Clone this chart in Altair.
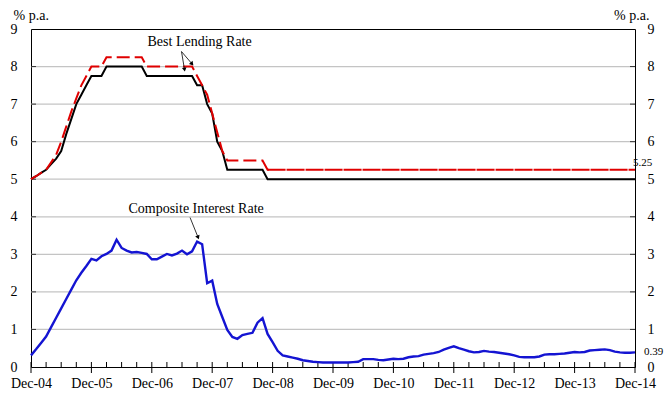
import json
import altair as alt
import pandas as pd

# ---------------- data (monthly, Dec-04 = 0 ... Dec-14 = 120) ----------------
months = list(range(121))
x_labels = ["Dec-04", "Dec-05", "Dec-06", "Dec-07", "Dec-08", "Dec-09",
            "Dec-10", "Dec-11", "Dec-12", "Dec-13", "Dec-14"]
y_ticks = [0, 1, 2, 3, 4, 5, 6, 7, 8, 9]
grid_vals = [1, 2, 3, 4, 5, 6, 7, 8]

blr_black = [
    5.00, 5.08, 5.17, 5.25, 5.40, 5.55, 5.75, 6.20, 6.60, 7.00, 7.25, 7.50,
    7.75, 7.75, 7.75, 8.00, 8.00, 8.00, 8.00, 8.00, 8.00, 8.00, 8.00, 7.75,
    7.75, 7.75, 7.75, 7.75, 7.75, 7.75, 7.75, 7.75, 7.75, 7.50, 7.50, 7.00,
    6.75, 6.00, 5.75, 5.25, 5.25, 5.25, 5.25, 5.25, 5.25, 5.25, 5.25, 5.00,
    5.00, 5.00, 5.00, 5.00, 5.00, 5.00, 5.00, 5.00, 5.00, 5.00, 5.00, 5.00,
    5.00, 5.00, 5.00, 5.00, 5.00, 5.00, 5.00, 5.00, 5.00, 5.00, 5.00, 5.00,
    5.00, 5.00, 5.00, 5.00, 5.00, 5.00, 5.00, 5.00, 5.00, 5.00, 5.00, 5.00,
    5.00, 5.00, 5.00, 5.00, 5.00, 5.00, 5.00, 5.00, 5.00, 5.00, 5.00, 5.00,
    5.00, 5.00, 5.00, 5.00, 5.00, 5.00, 5.00, 5.00, 5.00, 5.00, 5.00, 5.00,
    5.00, 5.00, 5.00, 5.00, 5.00, 5.00, 5.00, 5.00, 5.00, 5.00, 5.00, 5.00,
    5.00,
]

blr_red = [
    5.00, 5.08, 5.17, 5.25, 5.45, 5.65, 6.00, 6.40, 6.80, 7.15, 7.50, 7.75,
    8.00, 8.00, 8.00, 8.25, 8.25, 8.25, 8.25, 8.25, 8.25, 8.25, 8.25, 8.00,
    8.00, 8.00, 8.00, 8.00, 8.00, 8.00, 8.00, 8.00, 8.00, 7.75, 7.50, 7.25,
    6.75, 6.25, 5.75, 5.50, 5.50, 5.50, 5.50, 5.50, 5.50, 5.50, 5.50, 5.25,
    5.25, 5.25, 5.25, 5.25, 5.25, 5.25, 5.25, 5.25, 5.25, 5.25, 5.25, 5.25,
    5.25, 5.25, 5.25, 5.25, 5.25, 5.25, 5.25, 5.25, 5.25, 5.25, 5.25, 5.25,
    5.25, 5.25, 5.25, 5.25, 5.25, 5.25, 5.25, 5.25, 5.25, 5.25, 5.25, 5.25,
    5.25, 5.25, 5.25, 5.25, 5.25, 5.25, 5.25, 5.25, 5.25, 5.25, 5.25, 5.25,
    5.25, 5.25, 5.25, 5.25, 5.25, 5.25, 5.25, 5.25, 5.25, 5.25, 5.25, 5.25,
    5.25, 5.25, 5.25, 5.25, 5.25, 5.25, 5.25, 5.25, 5.25, 5.25, 5.25, 5.25,
    5.25,
]

composite = [
    0.31, 0.47, 0.64, 0.81, 1.06, 1.31, 1.56, 1.81, 2.06, 2.31, 2.51, 2.69,
    2.88, 2.84, 2.95, 3.01, 3.10, 3.39, 3.17, 3.10, 3.05, 3.06, 3.04, 3.01,
    2.87, 2.87, 2.94, 3.01, 2.97, 3.02, 3.10, 3.00, 3.08, 3.34, 3.27, 2.23,
    2.30, 1.68, 1.33, 0.99, 0.80, 0.75, 0.85, 0.88, 0.91, 1.18, 1.30, 0.88,
    0.66, 0.43, 0.31, 0.28, 0.25, 0.22, 0.18, 0.16, 0.14, 0.13, 0.12, 0.12,
    0.12, 0.12, 0.12, 0.12, 0.13, 0.14, 0.21, 0.21, 0.21, 0.19, 0.18, 0.20,
    0.22, 0.21, 0.22, 0.26, 0.28, 0.29, 0.33, 0.35, 0.37, 0.40, 0.46, 0.51,
    0.55, 0.50, 0.46, 0.42, 0.39, 0.40, 0.43, 0.41, 0.40, 0.38, 0.36, 0.34,
    0.31, 0.27, 0.26, 0.26, 0.26, 0.28, 0.33, 0.34, 0.34, 0.35, 0.36, 0.38,
    0.40, 0.39, 0.40, 0.44, 0.45, 0.46, 0.47, 0.45, 0.41, 0.39, 0.38, 0.38,
    0.39,
]

# annotation anchors in data units (month, % p.a.)
ann_labels = ["Best Lending Rate", "Composite Interest Rate"]
ann_m = [33.5, 32.8]
ann_v = [8.66, 4.22]
arrow_m = [29.9, 29.9, 31.6]
arrow_v = [8.40, 8.40, 3.98]
arrow_m2 = [30.5, 32.0, 33.2]
arrow_v2 = [7.92, 8.07, 3.45]
arrow_ang = [351, 320, 338]

quarter_ticks = [m for m in months if m % 3 == 0 and m % 12 != 0]
year_ticks = [m for m in months if m % 12 == 0]

# ---------------- chart ----------------
W, H = 604, 338
FONT = "Liberation Serif, Times New Roman, DejaVu Serif, serif"

df = pd.DataFrame({"m": months, "black": blr_black, "red": blr_red,
                   "comp": composite})
df_red_early = df[df["m"] <= 48]
df_red_late = df[df["m"] >= 47]

xscale = alt.Scale(domain=[0, 120], nice=False, zero=False)
yscale = alt.Scale(domain=[0, 9], nice=False, zero=True)

label_expr = json.dumps(x_labels) + "[floor(datum.value / 12)]"
x_axis = alt.Axis(values=year_ticks, labelExpr=label_expr, ticks=False,
                  domain=False, grid=False, labelFont=FONT, labelFontSize=14,
                  labelColor="black", labelPadding=9, labelOverlap=False,
                  labelFlush=False, title=None)
y_axis_left = alt.Axis(values=y_ticks, ticks=False, domain=False, grid=False,
                       labelFont=FONT, labelFontSize=14, labelColor="black",
                       labelPadding=14, labelOverlap=False, labelFlush=False,
                       title="% p.a.", titleAngle=0,
                       titleX=-18, titleY=-14, titleAlign="left",
                       titleBaseline="middle", titleFont=FONT,
                       titleFontSize=14, titleFontWeight="normal",
                       titleColor="black")
y_axis_right = alt.Axis(values=y_ticks, orient="right", ticks=False,
                        domain=False, grid=False, labelFont=FONT,
                        labelFontSize=14, labelColor="black", labelPadding=12,
                        labelOverlap=False, labelFlush=False,
                        title="% p.a.", titleAngle=0, titleX=14, titleY=-14,
                        titleAlign="right", titleBaseline="middle",
                        titleFont=FONT, titleFontSize=14,
                        titleFontWeight="normal", titleColor="black")


def X(field="m"):
    return alt.X(f"{field}:Q", scale=xscale, axis=x_axis)


def Y(field):
    return alt.Y(f"{field}:Q", scale=yscale, axis=y_axis_left)


grid = alt.Chart(pd.DataFrame({"v": grid_vals})).mark_rule(
    color="#c4c4c4", strokeWidth=1.2).encode(
    y=Y("v"), x=alt.value(0), x2=alt.value(W))

ytick_l = alt.Chart(pd.DataFrame({"v": grid_vals})).mark_rule(
    color="#333333", strokeWidth=1).encode(
    y=Y("v"), x=alt.value(0), x2=alt.value(5))
ytick_r = alt.Chart(pd.DataFrame({"v": grid_vals})).mark_rule(
    color="#333333", strokeWidth=1).encode(
    y=Y("v"), x=alt.value(W - 5), x2=alt.value(W))

qticks = alt.Chart(pd.DataFrame({"m": quarter_ticks})).mark_rule(
    color="black", strokeWidth=1).encode(
    x=X(), y=alt.value(H - 5), y2=alt.value(H))
yticks = alt.Chart(pd.DataFrame({"m": year_ticks})).mark_rule(
    color="black", strokeWidth=1).encode(
    x=X(), y=alt.value(H - 5), y2=alt.value(H + 6))

black_line = alt.Chart(df).mark_line(color="black", strokeWidth=2).encode(
    x=X(), y=Y("black"))
red_early = alt.Chart(df_red_early).mark_line(
    color="#e00000", strokeWidth=2, strokeDash=[13, 5]).encode(
    x=X(), y=Y("red"))
red_late = alt.Chart(df_red_late).mark_line(
    color="#e00000", strokeWidth=2, strokeDash=[18, 1]).encode(
    x=X(), y=Y("red"))
blue_line = alt.Chart(df).mark_line(color="#1414d2", strokeWidth=2.4).encode(
    x=X(), y=Y("comp"))

ann_df = pd.DataFrame({"m": ann_m, "v": ann_v, "label": ann_labels})
ann_text = alt.Chart(ann_df).mark_text(
    font=FONT, fontSize=14, color="black", baseline="middle",
    align="center").encode(x=X(), y=Y("v"), text="label:N")

arr_df = pd.DataFrame({"m": arrow_m, "v": arrow_v, "m2": arrow_m2,
                       "v2": arrow_v2, "ang": arrow_ang})
arrows = alt.Chart(arr_df).mark_rule(color="black", strokeWidth=0.8).encode(
    x=X(), y=Y("v"), x2="m2:Q", y2="v2:Q")
heads = alt.Chart(arr_df).mark_point(
    shape="triangle-down", filled=True, size=22, color="black",
    opacity=1).encode(
    x=X("m2"), y=Y("v2"), angle=alt.Angle("ang:Q", scale=None))

end_red = alt.Chart(pd.DataFrame({"m": [months[-1]], "v": [blr_red[-1]],
                                  "t": [f"{blr_red[-1]:.2f}"]})).mark_text(
    font=FONT, fontSize=11, color="black", align="left", baseline="middle",
    dx=-2, dy=-7).encode(x=X(), y=Y("v"), text="t:N")
end_comp = alt.Chart(pd.DataFrame({"m": [months[-1]], "v": [composite[-1]],
                                   "t": [f"{composite[-1]:.2f}"]})).mark_text(
    font=FONT, fontSize=11, color="black", align="left", baseline="middle",
    dx=9, dy=0).encode(x=X(), y=Y("v"), text="t:N")

left = alt.layer(grid, ytick_l, ytick_r, qticks, yticks, black_line,
                 red_early, red_late, blue_line, arrows, heads, ann_text,
                 end_red, end_comp)

right = alt.Chart(df).mark_line(opacity=0).encode(
    x=X(), y=alt.Y("comp:Q", scale=yscale, axis=y_axis_right))

chart = alt.layer(left, right).resolve_scale(y="independent").properties(
    width=W, height=H,
    autosize=alt.AutoSizeParams(type="none"),
    padding={"left": 23, "top": 21, "right": 29, "bottom": 22},
    background="white",
).configure_view(stroke="black", strokeWidth=1).configure_text(font=FONT)

chart.save("out.html", embed_options={"renderer": "svg", "actions": False})
